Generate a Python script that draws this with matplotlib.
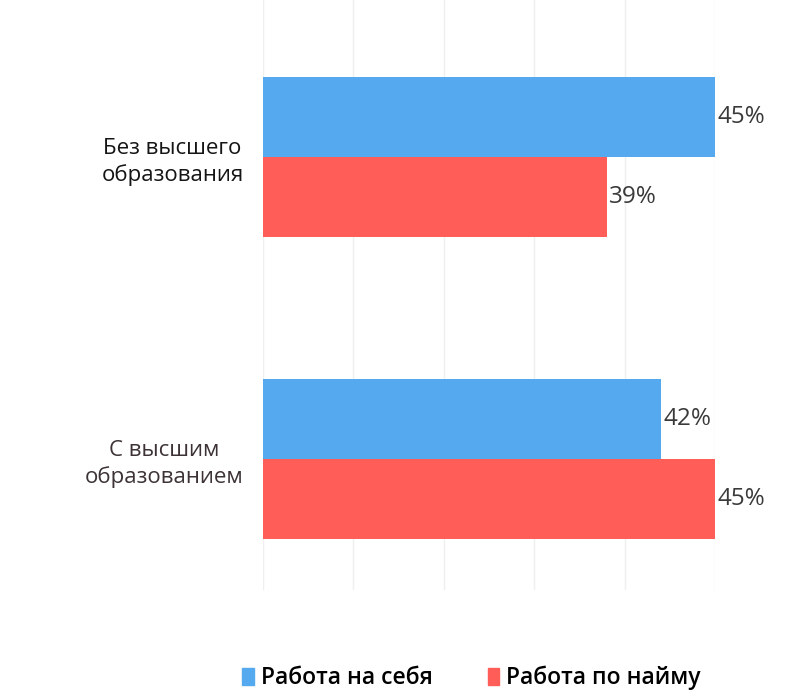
import numpy as np
from matplotlib import pyplot as plt

plt.rcParams["font.family"] = ["Open Sans", "DejaVu Sans"]

categories = ["Без высшего\nобразования", "С высшим\nобразованием"]
series_names = ["Работа на себя", "Работа по найму"]
self_employed = [45, 42]
hired = [39, 45]
colors = ["#55A9EE", "#FF5E58"]

fig = plt.figure(figsize=(8.06, 6.91), dpi=100)
ax = fig.add_axes([263 / 806, 1 - 590 / 691, 452 / 806, 590 / 691])

y = np.arange(len(categories))
h = 0.265
for vals, off, col in [(self_employed, -h / 2, colors[0]), (hired, h / 2, colors[1])]:
    bars = ax.barh(y + off, vals, height=h, color=col, left=0, zorder=2)
    for b, v in zip(bars, vals):
        ax.text(v + 0.15, b.get_y() + h / 2, f"{v}%", va="center", ha="left",
                fontsize=17.5, color="#3a3a3a", clip_on=False)

ax.set_xlim(20, 45)
ax.set_ylim(1.434, -0.52)
ax.set_xticks(range(20, 46, 5))
ax.xaxis.grid(True, color="#efefef", lw=1, zorder=0)
ax.tick_params(length=0, labelbottom=False)
ax.set_yticks(y)
labels = ax.set_yticklabels(categories, fontsize=16, linespacing=1.3)
for lab, c in zip(labels, ["#151515", "#3d3336"]):
    lab.set_color(c)
    lab.set_multialignment("center")
ax.tick_params(axis="y", pad=14)
for s in ax.spines.values():
    s.set_visible(False)

handles = [plt.Rectangle((0, 0), 1, 1, color=c) for c in colors]
fig.legend(handles, series_names, loc="center", bbox_to_anchor=(0.585, 1 - 678 / 691),
           ncol=2, frameon=False, prop={"size": 16.5, "weight": "semibold"},
           handlelength=0.5, handleheight=0.8, handletextpad=0.3, columnspacing=2.4)

fig.savefig("out.png", dpi=100)
